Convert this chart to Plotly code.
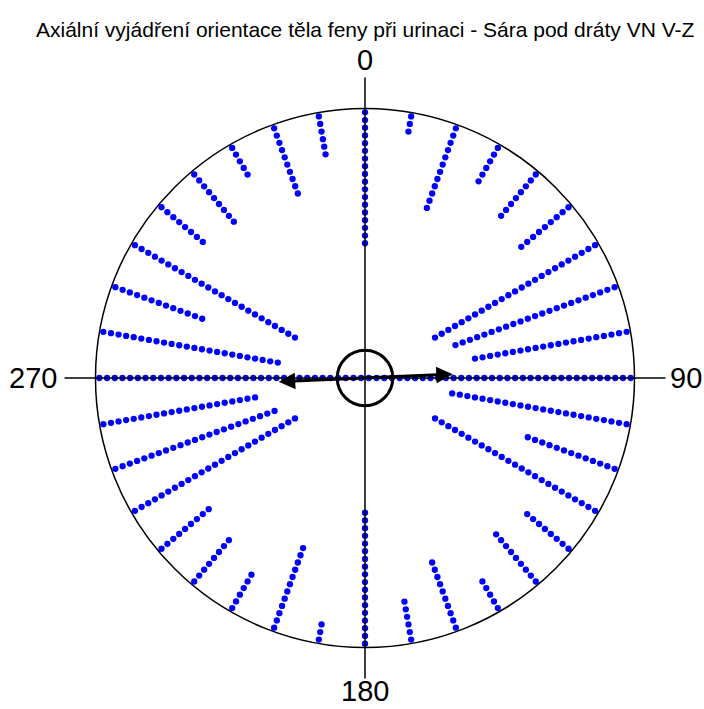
import numpy as np
import plotly.graph_objects as go

# Bin centres (degrees, clockwise from north) and the number of observations per bin.
# Axial data: each bin at theta is mirrored at theta + 180.
bin_angles = list(range(0, 360, 10))
half_counts = [18, 3, 12, 6, 8, 9, 25, 23, 21, 35, 24, 13, 25, 8, 9, 5, 10, 6]
bin_counts = half_counts + half_counts

# Axial mean vector (direction in degrees, length relative to the outer circle)
mean_direction = 87.5
mean_length = 0.326
confidence_radius = 0.103

axis_labels = ["0", "90", "180", "270"]
title_text = "Axiální vyjádření orientace těla feny při urinaci - Sára pod dráty VN V-Z"

# Geometry: one unit = one stacked dot, outer circle holds 35 dots
R = 35.0
PX_PER_UNIT = 7.7
W, H = 704, 709
CX, CY = 365, 378  # centre of the plot in page pixels

# Stack dots inward from the outer circle along each bin direction
xs, ys = [], []
for ang, n in zip(bin_angles, bin_counts):
    t = np.deg2rad(ang)
    r = R - 0.5 - np.arange(n)
    xs.extend(r * np.sin(t))
    ys.extend(r * np.cos(t))

fig = go.Figure()
fig.add_trace(go.Scatter(
    x=xs, y=ys, mode="markers",
    marker=dict(color="#0000ff", size=6.3, line=dict(width=0)),
    hoverinfo="skip", showlegend=False,
))

shapes = []
# outer circle
shapes.append(dict(type="circle", xref="x", yref="y", x0=-R, y0=-R, x1=R, y1=R,
                   line=dict(color="black", width=1.5)))
# axis cross, extending beyond the circle
ext = 1.115 * R
shapes.append(dict(type="line", xref="x", yref="y", x0=0, y0=-ext, x1=0, y1=ext,
                   line=dict(color="black", width=1.5)))
shapes.append(dict(type="line", xref="x", yref="y", x0=-ext, y0=0, x1=ext, y1=0,
                   line=dict(color="black", width=1.5)))
# confidence circle around the origin
cr = confidence_radius * R
shapes.append(dict(type="circle", xref="x", yref="y", x0=-cr, y0=-cr, x1=cr, y1=cr,
                   line=dict(color="black", width=3)))

annotations = []
# axial mean vector, drawn both ways through the centre
t = np.deg2rad(mean_direction)
L = mean_length * R
annotations.append(dict(
    x=L * np.sin(t), y=L * np.cos(t), ax=-L * np.sin(t), ay=-L * np.cos(t),
    xref="x", yref="y", axref="x", ayref="y", text="",
    showarrow=True, arrowhead=2, startarrowhead=2, arrowside="end+start",
    arrowsize=1.1, startarrowsize=1.1, arrowwidth=3, arrowcolor="black",
))

# direction labels
label_font = dict(family="Liberation Sans, Arial, sans-serif", size=29, color="black")
annotations.append(dict(x=0, y=1.18 * R, text=axis_labels[0], showarrow=False,
                        xanchor="center", yanchor="middle", font=label_font))
annotations.append(dict(x=1.125 * R, y=0, text=axis_labels[1], showarrow=False,
                        xanchor="left", yanchor="middle", font=label_font))
annotations.append(dict(x=0, y=-1.16 * R, text=axis_labels[2], showarrow=False,
                        xanchor="center", yanchor="middle", font=label_font))
annotations.append(dict(x=-1.135 * R, y=0, text=axis_labels[3], showarrow=False,
                        xanchor="right", yanchor="middle", font=label_font))

# title
annotations.append(dict(x=0, y=(CY - 29) / PX_PER_UNIT, text=title_text, showarrow=False,
                        xanchor="center", yanchor="middle",
                        font=dict(family="Liberation Sans, Arial, sans-serif", size=21,
                                  color="black")))

fig.update_layout(
    width=W, height=H,
    margin=dict(l=0, r=0, t=0, b=0),
    paper_bgcolor="white", plot_bgcolor="white",
    shapes=shapes, annotations=annotations,
    xaxis=dict(range=[-CX / PX_PER_UNIT, (W - CX) / PX_PER_UNIT], visible=False,
               fixedrange=True),
    yaxis=dict(range=[-(H - CY) / PX_PER_UNIT, CY / PX_PER_UNIT], visible=False,
               fixedrange=True),
)

fig.write_html("out.html")
